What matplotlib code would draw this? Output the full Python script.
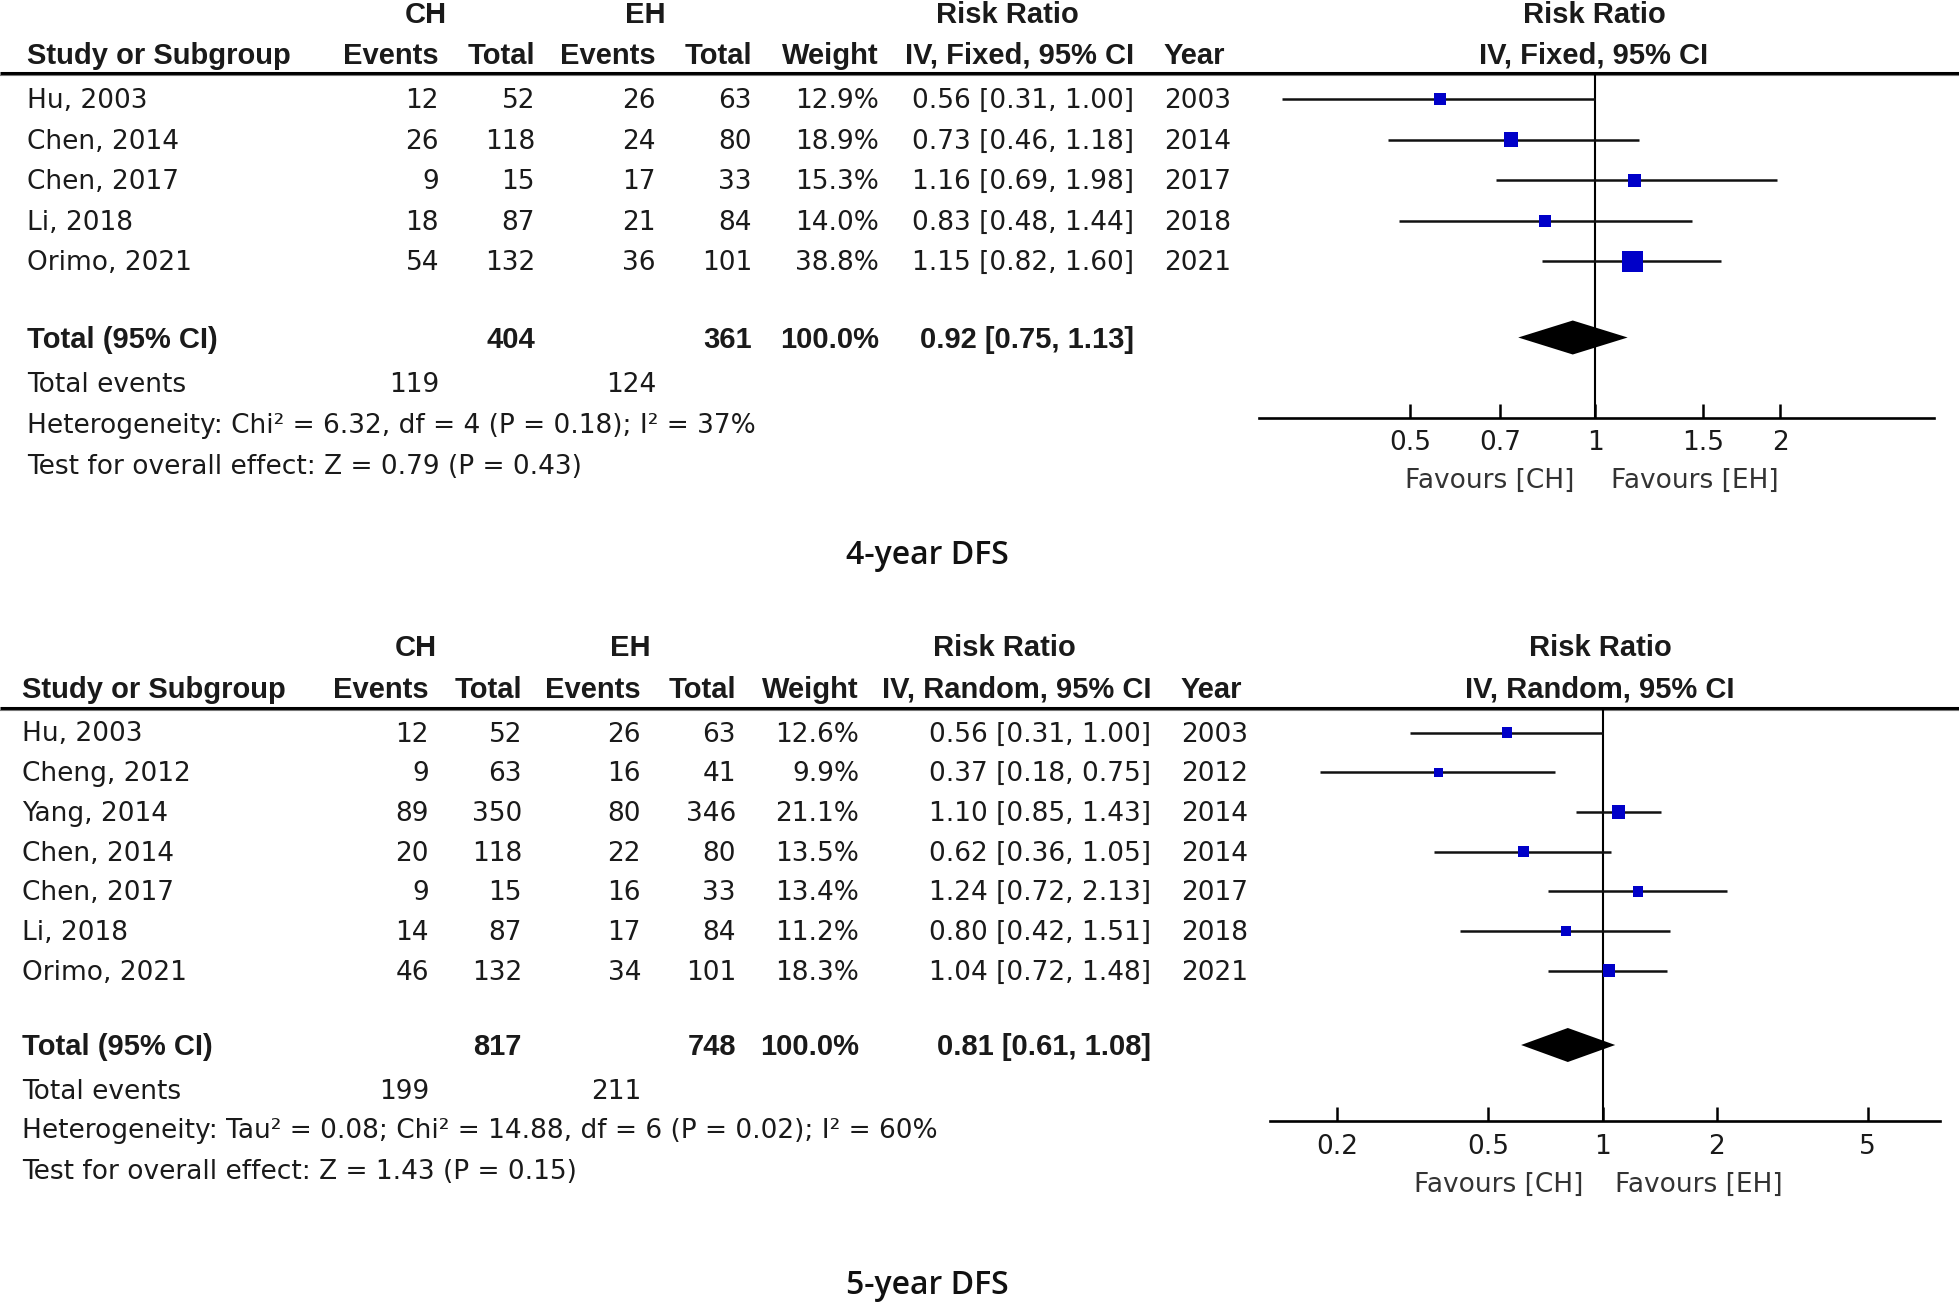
import matplotlib
matplotlib.use("Agg")
import matplotlib.pyplot as plt
import numpy as np

# ---------------- data: 4-year DFS (fixed effect) ----------------
top_studies = ["Hu, 2003", "Chen, 2014", "Chen, 2017", "Li, 2018", "Orimo, 2021"]
top_ch_events = [12, 26, 9, 18, 54]
top_ch_total = [52, 118, 15, 87, 132]
top_eh_events = [26, 24, 17, 21, 36]
top_eh_total = [63, 80, 33, 84, 101]
top_weight = [12.9, 18.9, 15.3, 14.0, 38.8]
top_rr = [0.56, 0.73, 1.16, 0.83, 1.15]
top_lo = [0.31, 0.46, 0.69, 0.48, 0.82]
top_hi = [1.00, 1.18, 1.98, 1.44, 1.60]
top_year = [2003, 2014, 2017, 2018, 2021]
top_total_n = [404, 361]
top_total_events = [119, 124]
top_pooled = [0.92, 0.75, 1.13]
top_het = "Heterogeneity: Chi\u00b2 = 6.32, df = 4 (P = 0.18); I\u00b2 = 37%"
top_test = "Test for overall effect: Z = 0.79 (P = 0.43)"
top_ticks = [0.5, 0.7, 1, 1.5, 2]
top_ticklabels = ["0.5", "0.7", "1", "1.5", "2"]

# ---------------- data: 5-year DFS (random effects) ----------------
bot_studies = ["Hu, 2003", "Cheng, 2012", "Yang, 2014", "Chen, 2014", "Chen, 2017", "Li, 2018", "Orimo, 2021"]
bot_ch_events = [12, 9, 89, 20, 9, 14, 46]
bot_ch_total = [52, 63, 350, 118, 15, 87, 132]
bot_eh_events = [26, 16, 80, 22, 16, 17, 34]
bot_eh_total = [63, 41, 346, 80, 33, 84, 101]
bot_weight = [12.6, 9.9, 21.1, 13.5, 13.4, 11.2, 18.3]
bot_rr = [0.56, 0.37, 1.10, 0.62, 1.24, 0.80, 1.04]
bot_lo = [0.31, 0.18, 0.85, 0.36, 0.72, 0.42, 0.72]
bot_hi = [1.00, 0.75, 1.43, 1.05, 2.13, 1.51, 1.48]
bot_year = [2003, 2012, 2014, 2014, 2017, 2018, 2021]
bot_total_n = [817, 748]
bot_total_events = [199, 211]
bot_pooled = [0.81, 0.61, 1.08]
bot_het = "Heterogeneity: Tau\u00b2 = 0.08; Chi\u00b2 = 14.88, df = 6 (P = 0.02); I\u00b2 = 60%"
bot_test = "Test for overall effect: Z = 1.43 (P = 0.15)"
bot_ticks = [0.2, 0.5, 1, 2, 5]
bot_ticklabels = ["0.2", "0.5", "1", "2", "5"]

W, H = 1959, 1306
REG_FONT = "DejaVu Sans"
BOLD_FONT = "Liberation Sans"
FS = 19
FS_BOLD = 21
TXT_COLOR = "#1a1a1a"
SQ_COLOR = "#0000c8"
DY_TXT = 2  # small downward nudge of text to sit on row centre

fig = plt.figure(figsize=(W / 100, H / 100), dpi=100)
bg = fig.add_axes([0, 0, 1, 1])
bg.set_xlim(0, W)
bg.set_ylim(H, 0)
bg.axis("off")


def txt(x, y, s, ha="left", bold=False, size=None, family=None, color=TXT_COLOR, weight=None):
    if family is None:
        family = BOLD_FONT if bold else REG_FONT
    if size is None:
        size = FS_BOLD if bold else FS
    if weight is None:
        weight = "bold" if bold else "normal"
    bg.text(x, y + DY_TXT, s, ha=ha, va="center", fontsize=size, family=family,
            fontweight=weight, color=color)


def fmt_ci(r, l, h):
    return f"{r:.2f} [{l:.2f}, {h:.2f}]"


def panel(L):
    d = L["data"]
    c = L["cols"]
    # group headers
    txt(c["ch_c"], L["y_super"], "CH", ha="center", bold=True)
    txt(c["eh_c"], L["y_super"], "EH", ha="center", bold=True)
    txt(c["rr_c"], L["y_super"], "Risk Ratio", ha="center", bold=True)
    txt(L["plot_c"], L["y_super"], "Risk Ratio", ha="center", bold=True)
    # column headers
    yh = L["y_head"]
    txt(c["study"], yh, "Study or Subgroup", bold=True)
    txt(c["ch_ev"], yh, "Events", ha="right", bold=True)
    txt(c["ch_tot"], yh, "Total", ha="right", bold=True)
    txt(c["eh_ev"], yh, "Events", ha="right", bold=True)
    txt(c["eh_tot"], yh, "Total", ha="right", bold=True)
    txt(c["wt"], yh, "Weight", ha="right", bold=True)
    txt(c["ci"], yh, L["method"], ha="right", bold=True)
    txt(c["year"], yh, "Year", bold=True)
    txt(L["plot_c"], yh, L["method"], ha="center", bold=True)
    # header rule
    bg.plot([0, W], [L["y_line"], L["y_line"]], color="black", lw=2.2, solid_capstyle="butt")
    bg.plot([0, W], [L["y_line"] + 2.5, L["y_line"] + 2.5], color="#777777", lw=0.8)
    # rows
    n = len(d["studies"])
    ys = [L["y_row0"] + i * L["dy"] for i in range(n)]
    for i, y in enumerate(ys):
        txt(c["study"], y, d["studies"][i])
        txt(c["ch_ev"], y, str(d["ch_events"][i]), ha="right")
        txt(c["ch_tot"], y, str(d["ch_total"][i]), ha="right")
        txt(c["eh_ev"], y, str(d["eh_events"][i]), ha="right")
        txt(c["eh_tot"], y, str(d["eh_total"][i]), ha="right")
        txt(c["wt"], y, f"{d['weight'][i]:.1f}%", ha="right")
        txt(c["ci"], y, fmt_ci(d["rr"][i], d["lo"][i], d["hi"][i]), ha="right")
        txt(c["year"], y, str(d["year"][i]))
    yt = L["y_total"]
    txt(c["study"], yt, "Total (95% CI)", bold=True)
    txt(c["ch_tot"], yt, str(d["total_n"][0]), ha="right", bold=True)
    txt(c["eh_tot"], yt, str(d["total_n"][1]), ha="right", bold=True)
    txt(c["wt"], yt, "100.0%", ha="right", bold=True)
    txt(c["ci"], yt, fmt_ci(*d["pooled"]), ha="right", bold=True)
    txt(c["study"], L["y_events"], "Total events")
    txt(c["ch_ev"], L["y_events"], str(d["total_events"][0]), ha="right")
    txt(c["eh_ev"], L["y_events"], str(d["total_events"][1]), ha="right")
    txt(c["study"], L["y_het"], d["het"])
    txt(c["study"], L["y_test"], d["test"])
    txt(927, L["y_title"], L["title"], ha="center", size=23, family="Open Sans",
        color="#111111", weight="semibold")

    # forest plot axes (pixel-aligned)
    x0, x1 = L["ax_x"]
    ytop, ybot = L["y_line"], L["y_axis"]
    ax = fig.add_axes([x0 / W, 1 - ybot / H, (x1 - x0) / W, (ybot - ytop) / H])
    ax.set_xscale("log")
    ax.set_xlim(*L["xlim"])
    ax.set_ylim(ybot, ytop)
    ax.patch.set_alpha(0)
    for s in ["top", "left", "right"]:
        ax.spines[s].set_visible(False)
    ax.spines["bottom"].set_linewidth(1.9)
    ax.axvline(1, color="black", lw=1.5, zorder=1)
    for i, y in enumerate(ys):
        ax.plot([d["lo"][i], d["hi"][i]], [y, y], color="#111111", lw=1.8, zorder=2,
                solid_capstyle="butt")
    sizes = [(L["sq_k"] * np.sqrt(w) * 0.72) ** 2 for w in d["weight"]]
    ax.scatter(d["rr"], ys, s=sizes, marker="s", color=SQ_COLOR, zorder=3, linewidths=0)
    r, l, h = d["pooled"]
    hh = 17
    ax.fill([l, r, h, r], [yt, yt - hh, yt, yt + hh], color="black", zorder=3, lw=0)
    ax.set_xticks(d["ticks"])
    ax.set_xticklabels(d["ticklabels"], family=REG_FONT, fontsize=FS, color=TXT_COLOR)
    ax.minorticks_off()
    ax.tick_params(axis="x", direction="in", length=10, width=1.8, pad=9)
    ax.set_yticks([])
    txt(L["fav"][0], L["y_fav"], "Favours [CH]", ha="center", color="#333333")
    txt(L["fav"][1], L["y_fav"], "Favours [EH]", ha="center", color="#333333")


top = dict(
    data=dict(studies=top_studies, ch_events=top_ch_events, ch_total=top_ch_total,
              eh_events=top_eh_events, eh_total=top_eh_total, weight=top_weight,
              rr=top_rr, lo=top_lo, hi=top_hi, year=top_year, total_n=top_total_n,
              total_events=top_total_events, pooled=top_pooled, het=top_het, test=top_test,
              ticks=top_ticks, ticklabels=top_ticklabels),
    cols=dict(study=27, ch_ev=439, ch_tot=535, eh_ev=656, eh_tot=752, wt=879, ci=1134, year=1164,
              ch_c=426, eh_c=645, rr_c=1007),
    method="IV, Fixed, 95% CI", plot_c=1594,
    y_super=13, y_head=54, y_line=72.5, y_row0=99, dy=40.6, y_total=337.5,
    y_events=382.5, y_het=424, y_test=465, y_title=554,
    ax_x=(1259, 1934), y_axis=417.5, xlim=(0.284, 3.56), sq_k=3.3,
    fav=(1490, 1695), y_fav=479, title="4-year DFS",
)

bot = dict(
    data=dict(studies=bot_studies, ch_events=bot_ch_events, ch_total=bot_ch_total,
              eh_events=bot_eh_events, eh_total=bot_eh_total, weight=bot_weight,
              rr=bot_rr, lo=bot_lo, hi=bot_hi, year=bot_year, total_n=bot_total_n,
              total_events=bot_total_events, pooled=bot_pooled, het=bot_het, test=bot_test,
              ticks=bot_ticks, ticklabels=bot_ticklabels),
    cols=dict(study=22, ch_ev=429, ch_tot=522, eh_ev=641, eh_tot=736, wt=859, ci=1151, year=1181,
              ch_c=416, eh_c=630, rr_c=1004),
    method="IV, Random, 95% CI", plot_c=1600,
    y_super=646, y_head=687.5, y_line=707.5, y_row0=732.5, dy=39.7, y_total=1045,
    y_events=1090, y_het=1129, y_test=1170, y_title=1284,
    ax_x=(1270, 1940), y_axis=1121, xlim=(0.1328, 7.76), sq_k=2.9,
    fav=(1499, 1699), y_fav=1182.5, title="5-year DFS",
)

panel(top)
panel(bot)

fig.savefig("out.png", dpi=100, facecolor="white")
